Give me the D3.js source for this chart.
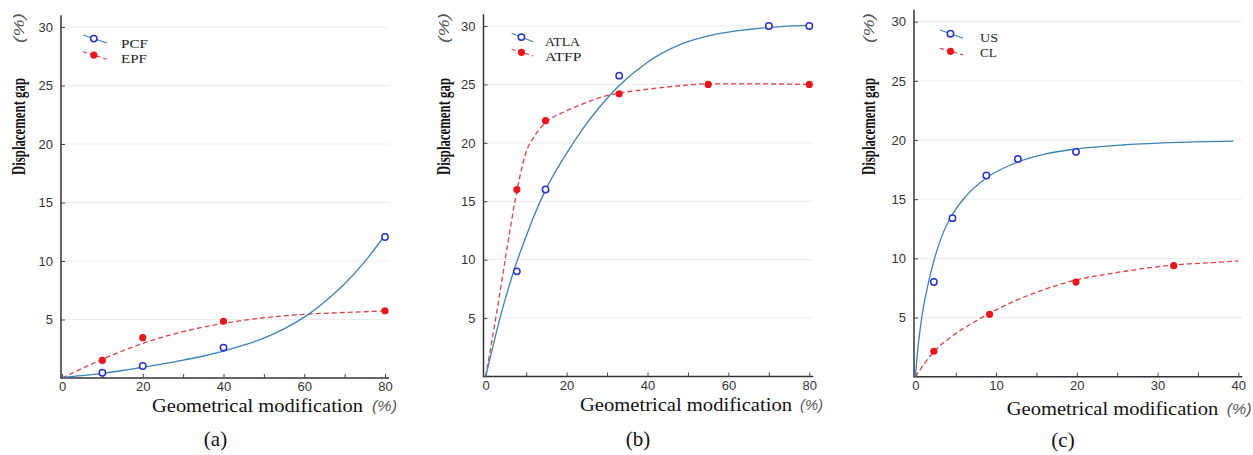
<!DOCTYPE html>
<html><head><meta charset="utf-8">
<script src="https://cdn.jsdelivr.net/npm/d3@7"></script>
<style>body{margin:0;background:#fff}svg{display:block}</style>
</head><body><svg id="chart" width="1253" height="455"></svg>
<script>
// ---------- Data ----------
// Panel (a)
const aPointsX = [10, 20, 40, 80];
const pcfValues = [0.45, 1.02, 2.6, 12.05];
const epfValues = [1.5, 3.45, 4.85, 5.75];
const pcfFitX = [0, 5, 10, 15, 20, 25, 30, 35, 40, 45, 50, 55, 60, 65, 70, 75, 80];
const pcfFitY = [0.05, 0.2, 0.4, 0.64, 0.92, 1.2, 1.52, 1.88, 2.3, 2.8, 3.4, 4.2, 5.2, 6.5, 8.05, 9.95, 12.2];
const epfFitX = [0, 10, 20, 30, 40, 50, 60, 70, 80];
const epfFitY = [0, 1.6, 2.96, 3.96, 4.67, 5.15, 5.44, 5.6, 5.73];
// Panel (b)
const atlaX = [7.7, 14.8, 33, 70, 80];
const atlaValues = [9, 16, 25.75, 30, 30];
const atfpX = [7.7, 14.8, 33, 55, 80];
const atfpValues = [16, 21.9, 24.2, 25, 25];
const atlaFitX = [0, 2, 4, 7, 10, 12, 15, 20, 24, 28, 33, 40, 48, 57, 65, 73, 80];
const atlaFitY = [0, 2.9, 5.6, 9.1, 12.0, 13.8, 16.1, 19.1, 21.2, 23.0, 24.9, 26.9, 28.4, 29.3, 29.7, 29.95, 30.05];
const atfpFitX = [0, 3.2, 5, 7.3, 9.8, 12.3, 14.7, 19.7, 23.8, 29.5, 32.9, 40.3, 48.5, 55, 65, 80];
const atfpFitY = [0, 6.5, 10.4, 15.1, 19.0, 20.7, 21.7, 22.7, 23.3, 24.0, 24.25, 24.6, 24.9, 25.05, 25.05, 25.0];
// Panel (c)
const usX = [2.3, 4.6, 8.8, 12.7, 19.9];
const usValues = [8, 13.4, 17, 18.4, 19];
const clX = [2.3, 9.2, 19.9, 32];
const clValues = [2.15, 5.27, 8, 9.38];
const usFitX = [0, 0.4, 0.8, 1.45, 2.3, 3.3, 4.5, 6.2, 8.7, 12, 16, 20, 26, 32.6, 39.4];
const usFitY = [0, 2.9, 5.0, 7.4, 9.8, 11.9, 13.6, 15.2, 16.75, 17.95, 18.8, 19.25, 19.6, 19.8, 19.9];
const clFitX = [0, 2.3, 4.5, 7, 9.2, 12, 16.1, 19.9, 24.4, 28.5, 32, 36.8, 40];
const clFitY = [0, 2.1, 3.4, 4.5, 5.36, 6.3, 7.4, 8.17, 8.74, 9.16, 9.44, 9.64, 9.78];
// Ticks / labels
const yTickValues = [5, 10, 15, 20, 25, 30];
const xTicksAB = [0, 10, 20, 30, 40, 50, 60, 70, 80];
const xTicksC = [0, 5, 10, 15, 20, 25, 30, 35, 40];
const yLabelText = "Displacement gap";
const xLabelText = "Geometrical modification";
const unitText = "(%)";
const panelLetters = ["(a)", "(b)", "(c)"];
const seriesNames = [["PCF", "EPF"], ["ATLA", "ATFP"], ["US", "CL"]];

// ---------- Layout ----------
const zip = (a, b) => a.map((v, i) => [v, b[i]]);
const panels = [
  { xMax: 80, xTicks: xTicksAB, step: 20, xr: [62, 385], yr: [378, 27], axisX: 61,
    yLabX: 24.5, xLab: [152, 211, 372, 25, 411.5], letterX: 215.5, letterY: 446,
    leg: { x0: 83, x1: 107, y: [[35, 43], [51.7, 59.3]], tx: 121, tb: [48, 63], tl: [27, 26] },
    blue: { pts: zip(aPointsX, pcfValues), fit: zip(pcfFitX, pcfFitY) },
    red: { pts: zip(aPointsX, epfValues), fit: zip(epfFitX, epfFitY) } },
  { xMax: 80, xTicks: xTicksAB, step: 20, xr: [485.7, 809.3], yr: [376.5, 26], axisX: 483.5,
    yLabX: 449.5, xLab: [580, 212, 800, 23, 410.8], letterX: 638, letterY: 446,
    leg: { x0: 511.7, x1: 533.3, y: [[33.3, 41.7], [49.3, 56]], tx: 545, tb: [46, 61], tl: [35, 36.5] },
    blue: { pts: zip(atlaX, atlaValues), fit: zip(atlaFitX, atlaFitY) },
    red: { pts: zip(atfpX, atfpValues), fit: zip(atfpFitX, atfpFitY) } },
  { xMax: 40, xTicks: xTicksC, step: 10, xr: [915.3, 1238.3], yr: [376.7, 21.7], axisX: 914,
    yLabX: 874.5, xLab: [1006.7, 211.6, 1226.7, 25, 415], letterX: 1063, letterY: 447,
    leg: { x0: 940, x1: 963.3, y: [[30, 38.3], [48.3, 55]], tx: 980, tb: [41.7, 56.7], tl: [18, 16.7] },
    blue: { pts: zip(usX, usValues), fit: zip(usFitX, usFitY) },
    red: { pts: zip(clX, clValues), fit: zip(clFitX, clFitY) } }
];

const BLUE_LINE = "#3a82b4", BLUE_PT = "#2633c4", RED = "#e8161c", RED_LINE = "#e04044";
const SERIF = "'Liberation Serif','Times New Roman',serif";
const SANS = "'Liberation Sans',Arial,sans-serif";

const svg = d3.select("#chart");

panels.forEach((p, i) => {
  const x = d3.scaleLinear().domain([0, p.xMax]).range(p.xr);
  const y = d3.scaleLinear().domain([0, 30]).range(p.yr);
  const g = svg.append("g");
  const xEnd = x(p.xMax) + 4;

  // gridlines
  g.selectAll("line.grid").data(yTickValues).join("line").attr("class", "grid")
    .attr("x1", p.axisX).attr("x2", xEnd).attr("y1", d => y(d)).attr("y2", d => y(d))
    .attr("stroke", "#ececec").attr("stroke-width", 1);

  // axes via d3
  const xa = g.append("g").attr("transform", `translate(0,${y(0)})`)
    .call(d3.axisBottom(x).tickValues(p.xTicks).tickSize(-4).tickSizeOuter(0).tickPadding(4)
      .tickFormat(d => d % p.step === 0 ? d : ""));
  const ya = g.append("g").attr("transform", `translate(${p.axisX},0)`)
    .call(d3.axisLeft(y).tickValues(yTickValues).tickSize(-4).tickSizeOuter(0).tickPadding(8));
  [xa, ya].forEach(a => {
    a.select(".domain").remove();
    a.selectAll(".tick line").attr("stroke", "#444").attr("stroke-width", 1);
    a.selectAll(".tick text").attr("fill", "#333").style("font-family", SANS).style("font-size", "13px");
  });
  // axis lines
  g.append("line").attr("x1", p.axisX).attr("x2", xEnd).attr("y1", y(0)).attr("y2", y(0))
    .attr("stroke", "#333").attr("stroke-width", 1.5);
  g.append("line").attr("x1", p.axisX).attr("x2", p.axisX).attr("y1", y(0) + 0.75).attr("y2", y(31))
    .attr("stroke", "#333").attr("stroke-width", 1.5);

  // fitted curves
  const line = d3.line().x(d => x(d[0])).y(d => y(d[1])).curve(d3.curveMonotoneX);
  g.append("path").attr("d", line(p.red.fit)).attr("fill", "none")
    .attr("stroke", RED_LINE).attr("stroke-width", 1.3).attr("stroke-dasharray", "5,3");
  g.append("path").attr("d", line(p.blue.fit)).attr("fill", "none")
    .attr("stroke", BLUE_LINE).attr("stroke-width", 1.3);

  // points
  g.selectAll("circle.red").data(p.red.pts).join("circle").attr("class", "red")
    .attr("cx", d => x(d[0])).attr("cy", d => y(d[1])).attr("r", 3.6).attr("fill", RED);
  g.selectAll("circle.blue").data(p.blue.pts).join("circle").attr("class", "blue")
    .attr("cx", d => x(d[0])).attr("cy", d => y(d[1])).attr("r", 3.2)
    .attr("fill", "#fff").attr("stroke", BLUE_PT).attr("stroke-width", 1.5);

  // legend
  const L = p.leg;
  [0, 1].forEach(k => {
    const [ya0, ya1] = L.y[k];
    const ln = g.append("line").attr("x1", L.x0).attr("x2", L.x1).attr("y1", ya0).attr("y2", ya1)
      .attr("stroke", k === 0 ? BLUE_LINE : RED_LINE).attr("stroke-width", 1.2);
    if (k === 1) ln.attr("stroke-dasharray", "4,3");
    const t = 0.45;
    const cx = L.x0 + (L.x1 - L.x0) * t, cy = ya0 + (ya1 - ya0) * t;
    if (k === 0) g.append("circle").attr("cx", cx).attr("cy", cy).attr("r", 3.2)
      .attr("fill", "#fff").attr("stroke", BLUE_PT).attr("stroke-width", 1.5);
    else g.append("circle").attr("cx", cx).attr("cy", cy).attr("r", 3.6).attr("fill", RED);
    g.append("text").attr("x", L.tx).attr("y", L.tb[k]).text(seriesNames[i][k])
      .attr("textLength", L.tl[k]).attr("lengthAdjust", "spacingAndGlyphs")
      .style("font-family", SERIF).style("font-size", "13.5px").attr("fill", "#222");
  });

  // y label
  const yl = g.append("g").attr("transform", `translate(${p.yLabX},175) rotate(-90)`);
  yl.append("text").attr("x", 0).attr("y", 0).text(yLabelText)
    .attr("textLength", 97).attr("lengthAdjust", "spacingAndGlyphs")
    .style("font-family", SERIF).style("font-size", "18px").style("font-weight", "bold").attr("fill", "#111");
  yl.append("text").attr("x", 132).attr("y", -1).text(unitText)
    .attr("textLength", 30).attr("lengthAdjust", "spacingAndGlyphs")
    .style("font-family", SANS).style("font-style", "italic").style("font-size", "14px").attr("fill", "#555");

  // x label
  const [lx, llen, ux, ulen, lb] = p.xLab;
  g.append("text").attr("x", lx).attr("y", lb).text(xLabelText)
    .attr("textLength", llen).attr("lengthAdjust", "spacingAndGlyphs")
    .style("font-family", SERIF).style("font-size", "18.5px").attr("fill", "#111");
  g.append("text").attr("x", ux).attr("y", lb - 1).text(unitText)
    .attr("textLength", ulen).attr("lengthAdjust", "spacingAndGlyphs")
    .style("font-family", SANS).style("font-style", "italic").style("font-size", "14px").attr("fill", "#555");

  // panel letter
  g.append("text").attr("x", p.letterX).attr("y", p.letterY).attr("text-anchor", "middle")
    .text(panelLetters[i]).style("font-family", SERIF).style("font-size", "21px").attr("fill", "#111");
});
</script>
</body></html>
